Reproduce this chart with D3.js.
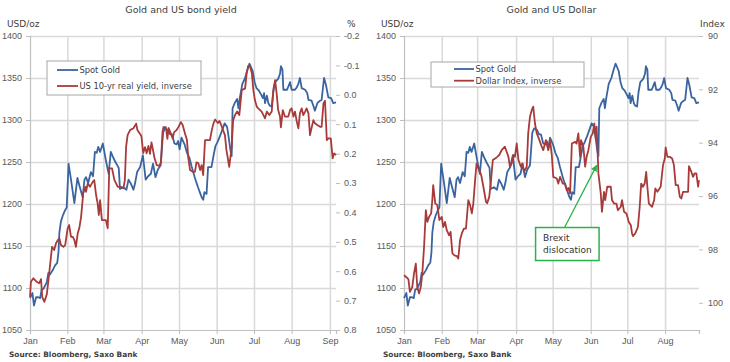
<!doctype html>
<html>
<head>
<meta charset="utf-8">
<script src="https://cdnjs.cloudflare.com/ajax/libs/d3/7.8.5/d3.min.js"></script>
<style>
body{margin:0;background:#fff;}
svg{display:block;font-family:"DejaVu Sans",Verdana,sans-serif;}
.tick text{fill:#595959;font-size:9px;}
.domain{stroke:#bfbfbf;stroke-width:1.2px;}
.tick line{stroke:#bfbfbf;}
.grid line{stroke:#d9d9d9;stroke-width:1.5px;}
.grid .domain{display:none;}
</style>
</head>
<body>
<svg id="chart" width="730" height="362"></svg>
<script>
// x = position along the trading period, 0 = first session, 100 = last session
var months = ["Jan","Feb","Mar","Apr","May","Jun","Jul","Aug","Sep"];
var bondMonthPos = [0, 12.2, 24.0, 36.5, 48.7, 61.0, 73.2, 85.5, 98.0];
var dollarMonthPos = [0, 12.8, 24.8, 38.0, 50.4, 63.3, 75.7, 88.5];
var goldTicks = [1050, 1100, 1150, 1200, 1250, 1300, 1350, 1400];
var yieldTicks = [-0.2, -0.1, 0, 0.1, 0.2, 0.3, 0.4, 0.5, 0.6, 0.7, 0.8];
var dollarTicks = [90, 92, 94, 96, 98, 100];

var spotGold = [[0,1088],[0.8,1094],[1.3,1079],[2.0,1089],[2.7,1089],[3.3,1088],[3.8,1098],[4.4,1099],[5.5,1107],[6.0,1118],[6.5,1116],[7.4,1121],[8.2,1127],[8.9,1130],[9.3,1142],[9.6,1166],[10.1,1179],[10.7,1186],[11.4,1192],[12.0,1196],[12.6,1248],[13.4,1229],[14.5,1201],[15.5,1231],[16.3,1220],[17.2,1208],[17.8,1229],[18.3,1232],[19.0,1225],[19.9,1238],[20.6,1233],[21.2,1262],[21.8,1261],[22.3,1268],[22.9,1262],[23.8,1272],[24.8,1252],[25.7,1236],[26.4,1262],[27.1,1256],[27.9,1250],[29.0,1243],[29.4,1218],[30.5,1220],[31.5,1217],[32.2,1229],[33.0,1224],[33.8,1217],[34.3,1224],[35.0,1238],[36.0,1244],[36.9,1258],[37.8,1229],[38.6,1233],[39.5,1236],[40.2,1248],[41.0,1232],[41.8,1241],[42.7,1246],[43.5,1285],[44.1,1290],[45.1,1288],[45.8,1283],[46.4,1283],[47.2,1272],[47.9,1271],[48.4,1275],[48.9,1265],[49.5,1279],[50.5,1271],[51.3,1261],[52.1,1255],[52.8,1245],[53.9,1231],[54.9,1220],[55.6,1213],[56.1,1208],[56.6,1205],[57.0,1214],[57.7,1212],[58.2,1244],[59.3,1244],[60.0,1258],[60.6,1269],[61.3,1274],[62.1,1281],[62.8,1288],[63.6,1296],[64.4,1292],[64.9,1280],[65.5,1264],[65.9,1257],[66.2,1314],[67.0,1321],[67.7,1325],[68.1,1314],[68.6,1327],[69.4,1343],[70.3,1350],[70.9,1358],[71.7,1367],[72.1,1364],[72.8,1358],[73.4,1345],[74.0,1338],[74.8,1335],[75.7,1329],[76.1,1326],[76.5,1332],[76.8,1320],[77.4,1329],[77.9,1320],[78.4,1317],[79.0,1316],[79.5,1333],[80.1,1345],[81.1,1349],[81.7,1355],[82.0,1364],[82.5,1360],[82.8,1336],[84.0,1336],[85.0,1345],[85.5,1336],[86.6,1336],[87.2,1339],[87.7,1343],[88.2,1350],[88.8,1338],[89.9,1336],[90.6,1332],[91.0,1324],[92.0,1323],[92.6,1317],[93.1,1311],[93.9,1320],[94.8,1323],[95.3,1324],[96.1,1350],[96.7,1342],[97.5,1327],[98.4,1326],[99.1,1320],[100,1321]];

var realYield = [[0,0.687],[0.3,0.636],[1.1,0.624],[2.2,0.636],[3.0,0.641],[3.6,0.627],[4.0,0.688],[4.7,0.704],[5.5,0.678],[6.0,0.633],[6.5,0.585],[7.2,0.517],[7.9,0.528],[8.5,0.505],[9.1,0.494],[9.6,0.488],[10.1,0.511],[10.9,0.517],[11.5,0.511],[12.3,0.454],[12.8,0.443],[13.4,0.483],[14.0,0.483],[14.5,0.494],[15.0,0.517],[15.6,0.471],[16.1,0.454],[16.7,0.415],[17.4,0.335],[18.1,0.313],[18.3,0.330],[18.9,0.301],[19.6,0.313],[20.5,0.296],[21.0,0.290],[21.6,0.341],[22.1,0.369],[22.5,0.409],[22.9,0.358],[23.5,0.426],[24.8,0.426],[25.4,0.454],[25.9,0.250],[26.8,0.250],[27.6,0.290],[28.7,0.313],[29.7,0.313],[30.5,0.318],[31.0,0.290],[31.4,0.177],[31.9,0.137],[32.7,0.120],[33.8,0.114],[34.7,0.098],[35.1,0.120],[35.8,0.131],[36.4,0.140],[37.0,0.198],[37.6,0.178],[38.1,0.199],[38.7,0.174],[39.2,0.201],[39.7,0.162],[40.7,0.215],[41.4,0.239],[42.3,0.242],[42.8,0.229],[43.3,0.127],[43.6,0.110],[44.4,0.110],[44.9,0.150],[45.3,0.113],[46.0,0.131],[46.6,0.148],[47.1,0.127],[47.9,0.120],[48.5,0.110],[49.3,0.093],[49.9,0.103],[50.7,0.133],[51.3,0.154],[51.7,0.212],[52.3,0.256],[53.2,0.262],[53.9,0.262],[54.4,0.230],[55.0,0.232],[55.6,0.256],[56.1,0.239],[56.6,0.273],[57.2,0.154],[58.0,0.154],[58.8,0.154],[59.3,0.126],[59.9,0.099],[60.5,0.084],[61.4,0.096],[61.9,0.089],[62.6,0.106],[63.7,0.137],[64.2,0.188],[64.9,0.232],[65.1,0.245],[65.9,0.178],[66.2,0.120],[66.4,0.086],[67.0,0.069],[67.7,0.057],[68.4,0.069],[69.2,-0.016],[70.3,-0.022],[70.8,-0.073],[71.3,-0.098],[71.9,-0.096],[72.5,-0.073],[73.0,-0.016],[73.5,0.018],[74.1,0.040],[74.6,0.046],[75.7,0.057],[76.8,0.080],[77.4,0.057],[78.2,0.069],[79.0,0.057],[79.5,-0.016],[80.1,-0.050],[80.6,-0.005],[81.1,0.052],[81.7,0.074],[82.0,0.111],[82.6,0.052],[83.3,0.074],[84.4,0.074],[85.0,0.052],[85.5,0.046],[86.1,0.074],[86.6,0.057],[87.2,0.092],[87.7,0.114],[88.2,0.063],[88.8,0.046],[89.3,0.069],[89.9,0.057],[90.4,0.046],[91.0,0.063],[91.5,0.137],[92.1,0.109],[92.6,0.086],[93.1,0.097],[93.9,0.103],[94.8,0.109],[95.3,0.109],[95.9,0.029],[96.4,0.020],[97.0,0.154],[97.5,0.148],[98.3,0.148],[98.9,0.216],[99.4,0.199],[100,0.205]];

var dollarIndex = [[0,98.97],[0.9,99.05],[1.5,99.12],[2.0,99.59],[2.8,99.41],[3.4,98.90],[4.0,98.53],[4.5,99.41],[5.1,99.65],[5.7,99.41],[6.2,98.90],[6.8,97.91],[7.4,96.53],[7.9,96.97],[8.5,96.78],[9.2,96.65],[9.6,96.15],[9.9,95.59],[10.6,96.28],[11.3,96.34],[12.0,96.90],[12.8,96.78],[13.3,97.16],[13.9,96.97],[14.5,97.28],[15.3,97.47],[15.8,97.34],[16.4,98.15],[17.1,98.22],[17.9,98.25],[18.4,98.34],[19.0,97.65],[19.6,97.40],[20.3,97.22],[21.0,97.22],[21.8,96.15],[22.4,96.34],[23.0,96.65],[23.5,96.28],[24.1,95.40],[24.6,94.78],[25.2,94.96],[25.8,95.09],[26.3,95.28],[26.9,95.65],[27.8,96.22],[28.2,96.27],[28.9,96.03],[29.5,95.40],[30.1,94.65],[30.9,94.59],[31.6,94.53],[32.3,94.46],[33.1,94.28],[34.2,94.15],[34.8,94.34],[35.4,94.53],[35.9,94.90],[36.5,94.78],[37.1,94.46],[37.6,94.53],[38.2,94.03],[38.8,94.65],[39.6,94.90],[40.1,94.78],[40.7,95.09],[41.6,94.90],[42.1,93.65],[42.7,93.03],[43.3,92.78],[43.8,92.65],[44.4,93.28],[45.0,93.65],[45.5,93.78],[46.1,93.97],[46.7,94.15],[47.2,94.28],[48.1,93.90],[48.9,94.28],[49.5,93.90],[50.1,94.46],[50.6,95.28],[51.8,95.34],[52.3,95.53],[52.9,95.28],[53.8,95.53],[54.6,95.53],[55.2,95.78],[55.7,95.70],[56.3,95.90],[56.9,94.03],[58.0,93.97],[58.5,94.03],[59.1,93.65],[59.7,94.53],[60.0,93.90],[60.8,94.15],[61.4,94.90],[61.9,94.53],[62.5,94.28],[63.3,93.78],[64.0,93.65],[64.5,93.28],[65.1,93.90],[65.3,93.40],[65.9,95.15],[66.7,95.90],[67.1,96.59],[67.8,95.84],[68.2,96.15],[68.9,95.65],[70.1,95.65],[70.5,96.15],[71.2,96.28],[72.0,96.28],[72.5,96.53],[73.5,96.40],[73.9,96.15],[74.6,96.59],[75.4,96.65],[76.2,96.97],[76.9,97.09],[77.3,97.40],[77.6,97.50],[78.4,97.40],[79.3,97.16],[79.9,96.40],[80.4,95.53],[81.0,95.65],[81.6,95.53],[82.1,95.09],[82.5,95.65],[83.0,96.28],[84.1,96.40],[84.8,96.15],[85.2,95.71],[85.9,95.84],[87.0,95.65],[87.8,94.84],[88.4,94.59],[88.7,94.18],[89.3,94.53],[90.1,94.53],[90.9,94.59],[91.5,94.84],[92.1,95.59],[92.9,95.59],[93.5,96.03],[94.0,96.09],[94.6,95.84],[96.3,95.84],[96.6,94.88],[97.4,95.09],[98.0,95.28],[98.5,95.15],[99.1,95.15],[99.7,95.65],[100,95.40]];

// Brexit note: arrow tip on the gold line, box anchored in data units
var brexitNote = {lines: ["Brexit", "dislocation"], tip: [65.3, 1246], box: [44.6, 1172]};

var goldColor = "#3a64a0", redColor = "#a83b3a", textColor = "#404040";
var svg = d3.select("#chart");

svg.append("defs").append("marker")
  .attr("id", "arrow").attr("viewBox", "0 0 10 10")
  .attr("refX", 9).attr("refY", 5)
  .attr("markerWidth", 5).attr("markerHeight", 5)
  .attr("orient", "auto")
  .append("path").attr("d", "M0,0L10,5L0,10z").attr("fill", "#2bb24c");

function panel(cfg) {
  var top = 36, bottom = 330;
  var x = d3.scaleLinear().domain([0, 100]).range([cfg.left, cfg.right]);
  var yGold = d3.scaleLinear().domain([1050, 1400]).range([bottom, top]);
  var y2 = d3.scaleLinear().domain(cfg.y2domain).range([top, bottom]);
  var g = svg.append("g");

  // grid
  g.append("g").attr("class", "grid")
    .attr("transform", "translate(" + cfg.left + ",0)")
    .call(d3.axisLeft(yGold).tickValues(goldTicks.slice(1)).tickSize(-(cfg.right - cfg.left)).tickFormat(""));
  g.append("g").attr("class", "grid")
    .attr("transform", "translate(0," + top + ")")
    .call(d3.axisBottom(x).tickValues(cfg.monthPos.slice(1)).tickSize(bottom - top).tickFormat(""));

  // axes
  g.append("g").attr("transform", "translate(0," + bottom + ")")
    .call(d3.axisBottom(x).tickValues(cfg.monthPos).tickSizeOuter(0).tickSize(4).tickPadding(4)
      .tickFormat(function(d, i) { return months[i]; }));
  g.append("g").attr("transform", "translate(" + cfg.left + ",0)")
    .call(d3.axisLeft(yGold).tickValues(goldTicks).tickSizeOuter(0).tickSize(4).tickPadding(4)
      .tickFormat(function(d) { return String(d); }));
  var ra = g.append("g").attr("transform", "translate(" + cfg.right + ",0)")
    .call(d3.axisRight(y2).tickValues(cfg.y2ticks).tickSizeOuter(0).tickSize(4).tickPadding(cfg.y2pad)
      .tickFormat(cfg.y2fmt));
  ra.select(".domain").remove();

  // series
  var lineGold = d3.line().x(function(d) { return x(d[0]); }).y(function(d) { return yGold(d[1]); });
  var line2 = d3.line().x(function(d) { return x(d[0]); }).y(function(d) { return y2(d[1]); });
  g.append("path").datum(spotGold).attr("d", lineGold)
    .attr("fill", "none").attr("stroke", goldColor).attr("stroke-width", 1.8).attr("stroke-linejoin", "round");
  g.append("path").datum(cfg.series2).attr("d", line2)
    .attr("fill", "none").attr("stroke", redColor).attr("stroke-width", 1.8).attr("stroke-linejoin", "round");

  // texts
  g.append("text").attr("x", (cfg.left + cfg.right) / 2 + cfg.titleShift).attr("y", 13)
    .attr("text-anchor", "middle").attr("font-size", 9.5).attr("fill", textColor).text(cfg.title);
  g.append("text").attr("x", cfg.left - 23).attr("y", 27)
    .attr("font-size", 9).attr("fill", textColor).text("USD/oz");
  g.append("text").attr("x", cfg.unitRX).attr("y", 27)
    .attr("font-size", 9).attr("fill", textColor).text(cfg.unitR);
  g.append("text").attr("x", cfg.left - 21).attr("y", 357)
    .attr("font-size", 7.4).attr("font-weight", "bold").attr("fill", textColor).text("Source: Bloomberg, Saxo Bank");

  // legend
  var L = cfg.legend;
  var lg = g.append("g").attr("transform", "translate(" + L.x + "," + L.y + ")");
  lg.append("rect").attr("width", L.w).attr("height", L.h)
    .attr("fill", "#fff").attr("stroke", "#a6a6a6").attr("stroke-width", 1);
  [[ "Spot Gold", goldColor ], [ cfg.name2, redColor ]].forEach(function(e, i) {
    var yy = L.first + i * L.gap;
    lg.append("line").attr("x1", L.lx).attr("x2", L.lx + L.lw).attr("y1", yy).attr("y2", yy)
      .attr("stroke", e[1]).attr("stroke-width", 1.8);
    lg.append("text").attr("x", L.lx + L.lw + 1.5).attr("y", yy + 3.3)
      .attr("font-size", 8.3).attr("fill", textColor).text(e[0]);
  });

  return {x: x, yGold: yGold, g: g};
}

panel({
  left: 30, right: 336, title: "Gold and US bond yield", titleShift: -2,
  unitR: "%", unitRX: 347, monthPos: bondMonthPos,
  y2domain: [-0.2, 0.8], y2ticks: yieldTicks, y2pad: 4,
  y2fmt: function(d) { return d.toFixed(1); },
  series2: realYield, name2: "US 10-yr real yield, inverse",
  legend: {x: 47, y: 61, w: 154, h: 34, first: 9, gap: 16, lx: 10, lw: 21}
});

var p2 = panel({
  left: 404, right: 699, title: "Gold and US Dollar", titleShift: 0,
  unitR: "Index", unitRX: 700, monthPos: dollarMonthPos,
  y2domain: [90, 101.02], y2ticks: dollarTicks, y2pad: 5,
  y2fmt: function(d) { return d; },
  series2: dollarIndex, name2: "Dollar Index, inverse",
  legend: {x: 431, y: 62, w: 153, h: 25, first: 7, gap: 11.7, lx: 23, lw: 20}
});

// Brexit annotation
var bx = p2.x(brexitNote.box[0]), by = p2.yGold(brexitNote.box[1]);
var note = p2.g.append("g");
note.append("line")
  .attr("x1", bx + 29).attr("y1", by)
  .attr("x2", p2.x(brexitNote.tip[0])).attr("y2", p2.yGold(brexitNote.tip[1]))
  .attr("stroke", "#2bb24c").attr("stroke-width", 1.3).attr("marker-end", "url(#arrow)");
note.append("rect").attr("x", bx).attr("y", by).attr("width", 63.5).attr("height", 33)
  .attr("fill", "#fff").attr("stroke", "#2bb24c").attr("stroke-width", 1.5);
brexitNote.lines.forEach(function(t, i) {
  note.append("text").attr("x", bx + 7.5).attr("y", by + 13 + i * 12.5)
    .attr("font-size", 9).attr("fill", "#333").text(t);
});
</script>
</body>
</html>
